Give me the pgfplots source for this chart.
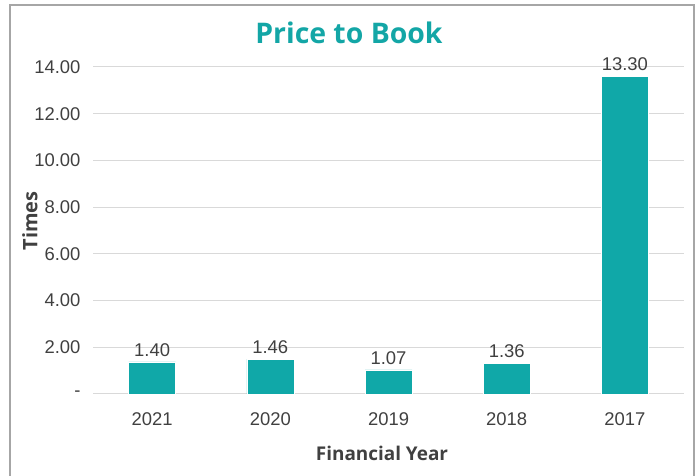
\documentclass[border=0pt]{standalone}
\usepackage{fontspec}
\setmainfont{Liberation Sans}
\newfontfamily\titlefont{Open Sans}
\usepackage{pgfplots}
\usepackage{pgfplotstable}
\pgfplotsset{compat=1.18}
\definecolor{teal1}{HTML}{10A8A8}
\definecolor{tealT}{HTML}{13A6A6}
\definecolor{gridc}{HTML}{D9D9D9}
\definecolor{txt}{HTML}{404040}
\definecolor{frame}{HTML}{A6A6A6}
\pgfplotstableread{
x y lab
0 1.38 1.40
1 1.49 1.46
2 1.03 1.07
3 1.30 1.36
4 13.59 13.30
}\pbdata
\begin{document}
\begin{tikzpicture}[x=1bp,y=1bp]
\path[use as bounding box] (0,0) rectangle (700,476);
\draw[frame, line width=1.5bp] (10,-10) rectangle (694,471);
\begin{axis}[
  at={(93bp,82bp)}, anchor=south west,
  scale only axis, width=591bp, height=327bp,
  xmin=-0.5, xmax=4.5, ymin=0, ymax=14,
  axis line style={draw=none},
  major tick length=0pt,
  ytick={0,2,4,6,8,10,12,14},
  yticklabels={-,2.00,4.00,6.00,8.00,10.00,12.00,14.00},
  xtick={0,1,2,3,4},
  xticklabels={2021,2020,2019,2018,2017},
  ymajorgrids, grid style={gridc, line width=1bp},
  tick label style={font=\fontsize{18.5}{20}\selectfont, text=txt},
  yticklabel style={xshift=-9bp},
  xticklabel style={yshift=-15bp},
  /pgf/number format/assume math mode=true,
  clip=false,
]
\addplot[ybar, bar width=47bp, fill=teal1, draw=white, line width=0.5bp,
  nodes near coords, point meta=explicit symbolic,
  every node near coord/.append style={font=\fontsize{18.5}{20}\selectfont, text=txt, anchor=south, yshift=2bp}]
  table[x=x, y=y, meta=lab] {\pbdata};
\end{axis}
\node[font=\titlefont\bfseries\fontsize{28.5}{31}\selectfont, text=tealT] at (349,443) {Price to Book};
\node[font=\titlefont\bfseries\fontsize{20}{22}\selectfont, text=txt, rotate=90] at (30,255) {Times};
\node[font=\titlefont\bfseries\fontsize{19}{21}\selectfont, text=txt] at (382,23) {Financial Year};
\end{tikzpicture}
\end{document}
